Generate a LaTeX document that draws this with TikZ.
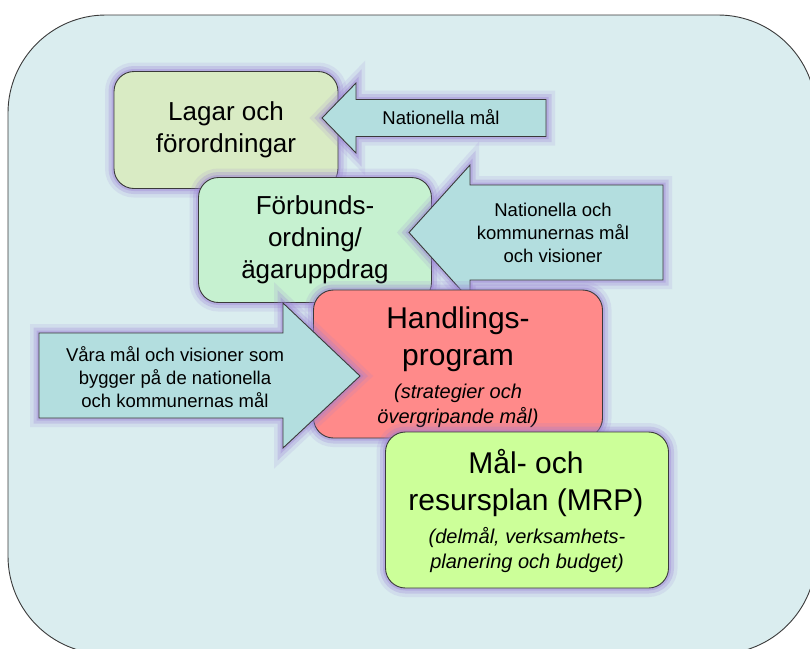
\documentclass[tikz,border=0pt]{standalone}
\usepackage{fontspec}
\setmainfont{Liberation Sans}
\usetikzlibrary{positioning}

\definecolor{panelc}{HTML}{DAEDEF}
\definecolor{lagarc}{HTML}{D9EBC4}
\definecolor{forbc}{HTML}{C6F1D0}
\definecolor{handc}{HTML}{FF8A8A}
\definecolor{mrpc}{HTML}{CCFF99}
\definecolor{pilc}{HTML}{B3DEDF}
\definecolor{glowc}{HTML}{9A7FD6}
\definecolor{kantc}{HTML}{3A3A3A}

\tikzset{
  glow/.style={preaction={draw=glowc, line width=18pt, draw opacity=0.14},
    preaction={draw=glowc, line width=11pt, draw opacity=0.25},
    preaction={draw=glowc, line width=5pt, draw opacity=0.35}},
  box/.style={glow, draw=kantc, line width=0.9pt, rounded corners=20pt, inner sep=0pt, align=center},
  pil/.style={glow, draw=kantc, fill=pilc, line width=0.9pt, line join=miter},
  pilText/.style={align=center, font=\fontsize{18.5}{23}\selectfont},
  stor/.style={font=\fontsize{26}{32}\selectfont},
}

\begin{document}
\begin{tikzpicture}[x=1pt, y=-1pt]
    \useasboundingbox (0,0) rectangle (810,648);
    \clip (0,0) rectangle (810,648);

    % Draw background panel
    \draw[fill=panelc, draw=kantc, line width=0.9pt, rounded corners=98pt] (8,15) rectangle (816,654);

    % Lagar and the first arrow
    \node[box, stor, fill=lagarc, minimum width=224, minimum height=117] (lagar) at (226,130) {Lagar och\\förordningar};
    \draw[pil] (322,118) -- (356,83) -- (356,99.5) -- (546,99.5) -- (546,136.5) -- (356,136.5) -- (356,153) -- cycle;
    \node[pilText] (natMal) at (441,117) {Nationella mål};

    % Förbundsordning and the second arrow
    \node[box, stor, fill=forbc, minimum width=233, minimum height=125] (forb) at (315,240) {Förbunds-\\ordning/\\ägaruppdrag};
    \draw[pil] (409,232.5) -- (470,165) -- (470,185) -- (663,185) -- (663,280) -- (470,280) -- (470,300) -- cycle;
    \node[pilText] (natKomm) at (553,233) {Nationella och\\kommunernas mål\\och visioner};

    % Handlingsprogram
    \node[box, fill=handc, minimum width=289, minimum height=148] (hand) at (458,364) {};
    \node[align=center, font=\fontsize{30}{37}\selectfont] (handTitel) at (458,339) {Handlings-\\program};
    \node[align=center, font=\fontsize{20}{25}\selectfont\itshape] (handSub) at (458,406) {(strategier och\\övergripande mål)};

    % Third arrow, pointing right
    \draw[pil] (360,376) -- (283,303) -- (283,333) -- (39,333) -- (39,418) -- (283,418) -- (283,448) -- cycle;
    \node[pilText] (vara) at (175,377) {Våra mål och visioner som\\bygger på de nationella\\och kommunernas mål};

    % Mål- och resursplan
    \node[box, fill=mrpc, minimum width=283, minimum height=156] (mrp) at (527,510) {};
    \node[align=center, font=\fontsize{30}{37}\selectfont] (mrpTitel) at (526,483) {Mål- och\\resursplan (MRP)};
    \node[align=center, font=\fontsize{20}{25}\selectfont\itshape] (mrpSub) at (527,550) {(delmål, verksamhets-\\planering och budget)};
\end{tikzpicture}
\end{document}
